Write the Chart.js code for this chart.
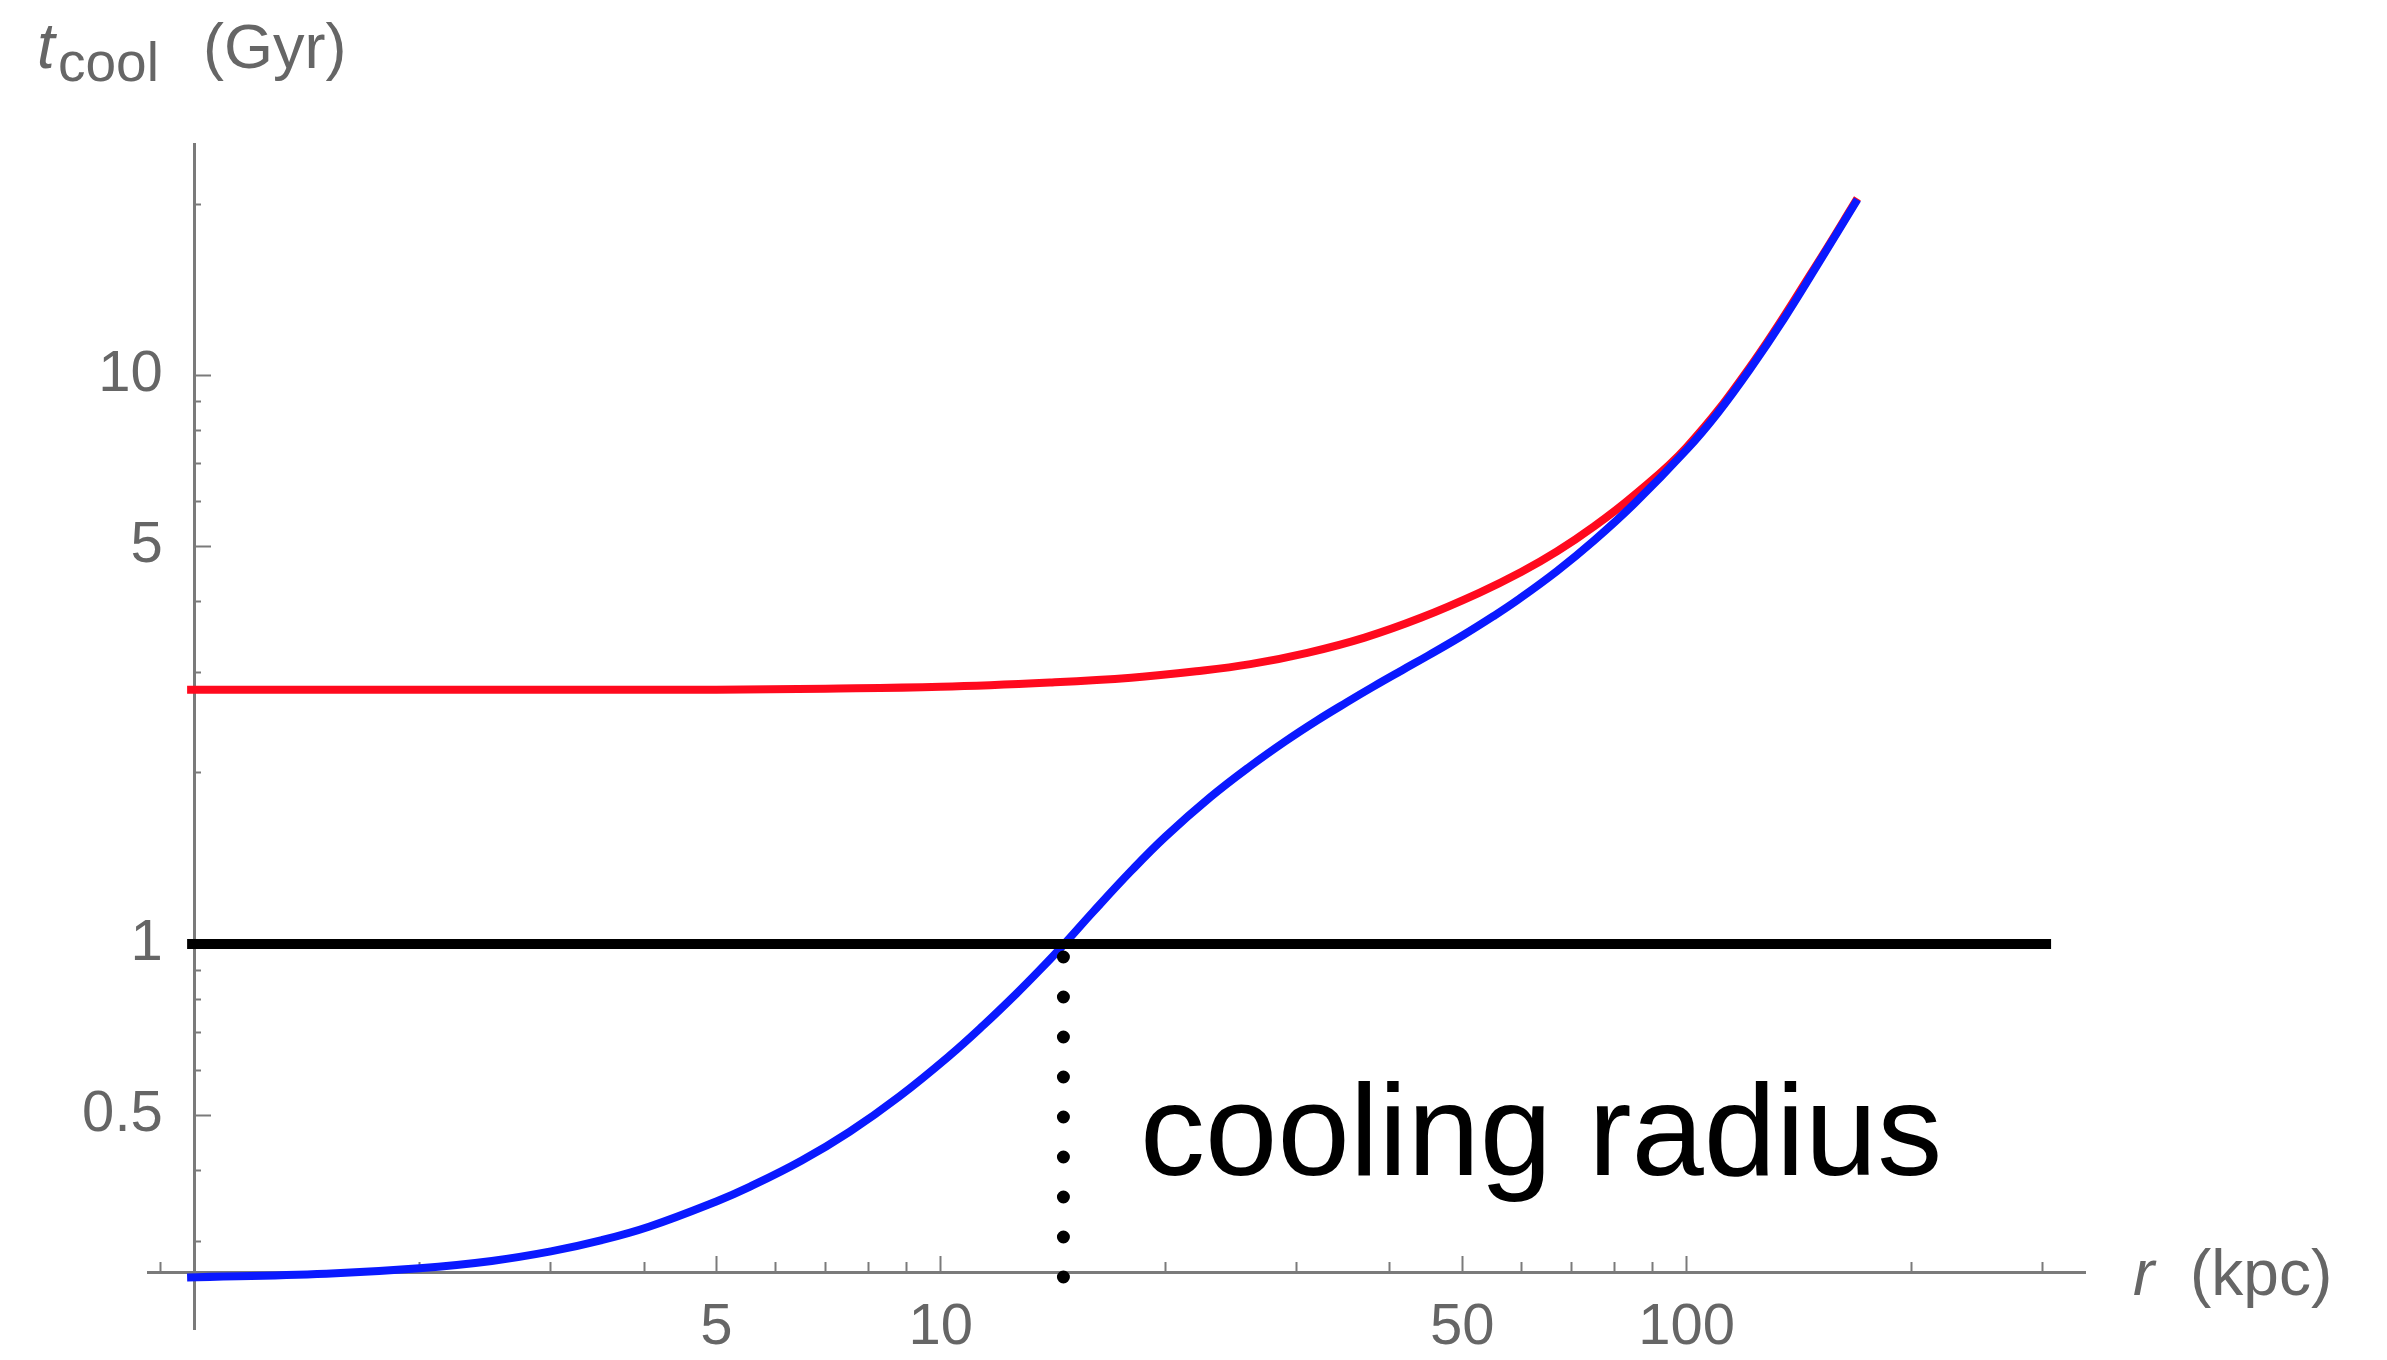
<!DOCTYPE html>
<html>
<head>
<meta charset="utf-8">
<script src="https://cdn.jsdelivr.net/npm/chart.js@4.4.1/dist/chart.umd.min.js"></script>
<style>
  html, body { margin: 0; padding: 0; background: #fff; }
  #wrap { width: 2387px; height: 1360px; }
</style>
</head>
<body>
<div id="wrap"><canvas id="cool"></canvas></div>
<script>
// cooling time t_cool (Gyr) against radius r (kpc)
const blueR = [0.976, 1.5, 2, 2.5, 3, 3.5, 4.07, 5, 5.55, 6.5, 7.55, 8.8, 10.28, 11.4, 12.64, 13.6, 14.6, 16, 18, 20, 23, 26, 29, 32, 35, 38, 41.6, 45, 50, 55, 59.4, 67, 75, 85, 100, 110, 121.5, 135, 149, 169.4];
const blueT = [0.2594, 0.2633, 0.2692, 0.2773, 0.2882, 0.3013, 0.3188, 0.3528, 0.3746, 0.4159, 0.4681, 0.5398, 0.6369, 0.7194, 0.8191, 0.9028, 0.9963, 1.139, 1.345, 1.544, 1.814, 2.055, 2.275, 2.476, 2.66, 2.835, 3.033, 3.214, 3.483, 3.767, 4.03, 4.525, 5.111, 5.94, 7.4, 8.577, 10.24, 12.57, 15.47, 20.37];

const redR = [0.976, 3, 5, 7, 10, 14, 18, 22, 26, 31, 37, 44, 52.7, 60, 67, 75, 85, 100, 121.5, 149, 169.4];
const redT = [2.8, 2.8, 2.8, 2.812, 2.834, 2.884, 2.94, 3.017, 3.105, 3.251, 3.458, 3.746, 4.144, 4.508, 4.9, 5.414, 6.15, 7.475, 10.33, 15.57, 20.46];

const unityR = [0.976, 308];
const unityT = [1, 1];

// dotted drop line at the cooling radius
const coolR = [14.6, 14.6];
const coolT = [0.949, 0.2595];

const xMajor = [5, 10, 50, 100];
const xMinor = [0.9, 2, 3, 4, 6, 7, 8, 9, 20, 30, 40, 60, 70, 80, 90, 200, 300];
const yMajor = [0.5, 1, 5, 10];
const yMinor = [0.3, 0.4, 0.6, 0.7, 0.8, 0.9, 2, 3, 4, 6, 7, 8, 9, 20];

const xRange = [0.865, 342];
const yRange = [0.2105, 25.5];
const axisCross = { x: 1, y: 0.265 };
const note = { text: "cooling radius", r: 18.5, t: 0.393 };

const axisGrey = "#7a7a7a";
const labelGrey = "#666666";

function pts(xs, ys) {
	return xs.map((x, i) => ({ x: x, y: ys[i] }));
}

function noPad(s) {
	s.paddingLeft = 0;
	s.paddingRight = 0;
	s.paddingTop = 0;
	s.paddingBottom = 0;
}

function logAxis(axis, range, values, tickLen, showLine, labels) {
	let pos = axis == "x" ? { y: axisCross.y } : { x: axisCross.x };
	return {
		type: "logarithmic",
		axis: axis,
		min: range[0],
		max: range[1],
		position: pos,
		afterBuildTicks: (s) => {
			s.ticks = values.map((v) => ({ value: v }));
		},
		afterFit: noPad,
		grid: {
			drawOnChartArea: false,
			drawTicks: true,
			tickLength: tickLen,
			tickWidth: 2,
			tickColor: axisGrey,
		},
		border: { display: showLine, color: axisGrey, width: 3 },
		ticks: {
			display: labels,
			autoSkip: false,
			maxRotation: 0,
			padding: 39,
			color: labelGrey,
			font: { size: 58 },
			// y labels sit right against the axis, so pad them with spaces
			callback: (v) => (axis == "x" ? String(v) : String(v) + "  "),
		},
	};
}

const labelsPlugin = {
	id: "labels",
	afterDraw(chart) {
		const { ctx, chartArea, scales } = chart;
		const ox = scales.x.getPixelForValue(axisCross.x);
		const oy = scales.y.getPixelForValue(axisCross.y);
		ctx.save();
		ctx.textBaseline = "alphabetic";
		ctx.textAlign = "left";
		ctx.fillStyle = labelGrey;

		// y axis title
		ctx.font = 'italic 64px "Liberation Sans"';
		ctx.fillText("t", ox - 158, chartArea.top - 76);
		ctx.font = '55px "Liberation Sans"';
		ctx.fillText("cool", ox - 137, chartArea.top - 63);
		ctx.font = '63px "Liberation Sans"';
		ctx.fillText("(Gyr)", ox + 8, chartArea.top - 76);

		// x axis title
		ctx.font = 'italic 64px "Liberation Sans"';
		ctx.fillText("r", chartArea.right + 48, oy + 23);
		ctx.font = '64px "Liberation Sans"';
		ctx.fillText("(kpc)", chartArea.right + 105, oy + 23);

		// annotation
		ctx.fillStyle = "#000";
		ctx.font = '130px "Liberation Sans"';
		ctx.fillText(note.text, scales.x.getPixelForValue(note.r), scales.y.getPixelForValue(note.t));
		ctx.restore();
	},
};

Chart.defaults.font.family = '"Liberation Sans", Arial, sans-serif';

new Chart("cool", {
	type: "line",
	data: {
		datasets: [
			{
				data: pts(coolR, coolT),
				borderColor: "#000",
				borderWidth: 13,
				borderDash: [0, 40],
				borderCapStyle: "round",
				pointRadius: 0,
				fill: false,
			},
			{
				data: pts(unityR, unityT),
				borderColor: "#000",
				borderWidth: 10,
				pointRadius: 0,
				fill: false,
			},
			{
				data: pts(blueR, blueT),
				borderColor: "rgb(10,25,255)",
				borderWidth: 8,
				pointRadius: 0,
				tension: 0.4,
				fill: false,
			},
			{
				data: pts(redR, redT),
				borderColor: "rgb(255,10,30)",
				borderWidth: 8,
				pointRadius: 0,
				tension: 0.4,
				fill: false,
			},
		],
	},
	options: {
		responsive: true,
		maintainAspectRatio: false,
		animation: false,
		devicePixelRatio: 1,
		layout: { padding: { left: 148, top: 144, right: 302, bottom: 31 } },
		plugins: { legend: { display: false }, tooltip: { enabled: false } },
		scales: {
			x: logAxis("x", xRange, xMajor, -18, true, true),
			xMinor: logAxis("x", xRange, xMinor, -10, false, false),
			y: logAxis("y", yRange, yMajor, -18, true, true),
			yMinor: logAxis("y", yRange, yMinor, -6, false, false),
		},
	},
	plugins: [labelsPlugin],
});
</script>
</body>
</html>
